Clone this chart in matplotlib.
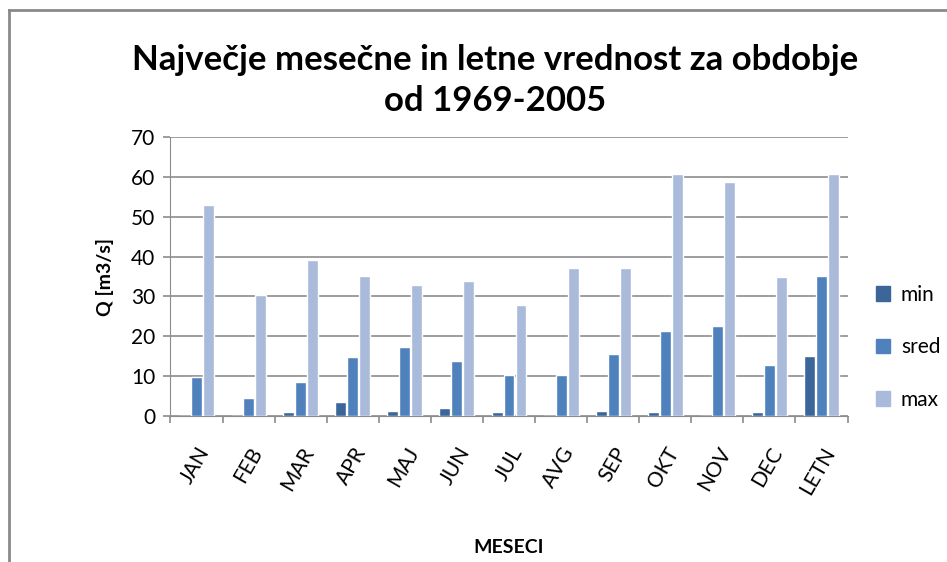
import matplotlib.pyplot as plt
import numpy as np
from matplotlib.patches import Rectangle
from matplotlib.lines import Line2D

plt.rcParams['font.family'] = ['Lato', 'DejaVu Sans']

months = ['JAN', 'FEB', 'MAR', 'APR', 'MAJ', 'JUN', 'JUL', 'AVG', 'SEP', 'OKT', 'NOV', 'DEC', 'LETN']
q_min = [0.0, 0.0, 0.9, 3.5, 1.3, 1.9, 0.9, 0.0, 1.2, 0.9, 0.0, 0.9, 15.0]
q_sred = [9.7, 4.5, 8.4, 14.8, 17.2, 13.9, 10.3, 10.3, 15.5, 21.4, 22.6, 12.7, 35.2]
q_max = [52.9, 30.3, 39.1, 35.2, 32.9, 33.9, 27.8, 37.2, 37.2, 60.7, 58.8, 34.9, 60.7]

colors = ['#3C6699', '#4F81BD', '#A9BADB']

fig = plt.figure(figsize=(9.47, 5.62), dpi=100)
ax = fig.add_axes([0.180, 0.260, 0.715, 0.496])

x = np.arange(len(months))
off = 0.23
w = 0.21
for i, (vals, c, lab) in enumerate(zip([q_min, q_sred, q_max], colors, ['min', 'sred', 'max'])):
    ax.bar(x + (i - 1) * off, vals, width=w, color=c, edgecolor='white', linewidth=1.0, label=lab, zorder=3)

ax.set_xlim(-0.5, len(months) - 0.5)
ax.set_ylim(0, 70)
ax.set_yticks(range(0, 71, 10))
ax.yaxis.grid(True, color='#8c8c8c', linewidth=1.2, zorder=0)
for s in ['top', 'right']:
    ax.spines[s].set_visible(False)
ax.spines['left'].set_color('#8c8c8c')
ax.spines['bottom'].set_color('#8c8c8c')
ax.tick_params(axis='y', colors='#8c8c8c', labelcolor='black', labelsize=15, length=5, width=1.2, pad=6)
ax.set_xticks(x)
ax.set_xticklabels(months, rotation=60, ha='right', rotation_mode='anchor', fontsize=15)
ax.tick_params(axis='x', length=0, pad=20)
ax.set_xticks(np.arange(-0.5, len(months), 1), minor=True)
ax.tick_params(axis='x', which='minor', length=5, color='#8c8c8c', width=1.2)

ax.set_ylabel('Q [m3/s]', fontsize=14, fontweight='bold', labelpad=12)
ax.set_xlabel('MESECI', fontsize=14, fontweight='bold', labelpad=30)

fig.text(0.523, 0.856, 'Največje mesečne in letne vrednost za obdobje\nod 1969-2005',
         ha='center', va='center', fontsize=25, fontweight='bold', linespacing=1.35)

handles = [Rectangle((0, 0), 1, 1, color=c) for c in colors]
fig.legend(handles, ['min', 'sred', 'max'], loc='center left', bbox_to_anchor=(0.905, 0.382),
           frameon=False, fontsize=15, handlelength=0.7, handleheight=0.7,
           labelspacing=1.55, handletextpad=0.5)

fig.add_artist(Line2D([0.0095, 0.0095], [0.0, 0.983], color='#8a8a8a', linewidth=2, transform=fig.transFigure))
fig.add_artist(Line2D([0.0095, 1.0], [0.983, 0.983], color='#8a8a8a', linewidth=2, transform=fig.transFigure))

fig.savefig('out.png', dpi=100)
